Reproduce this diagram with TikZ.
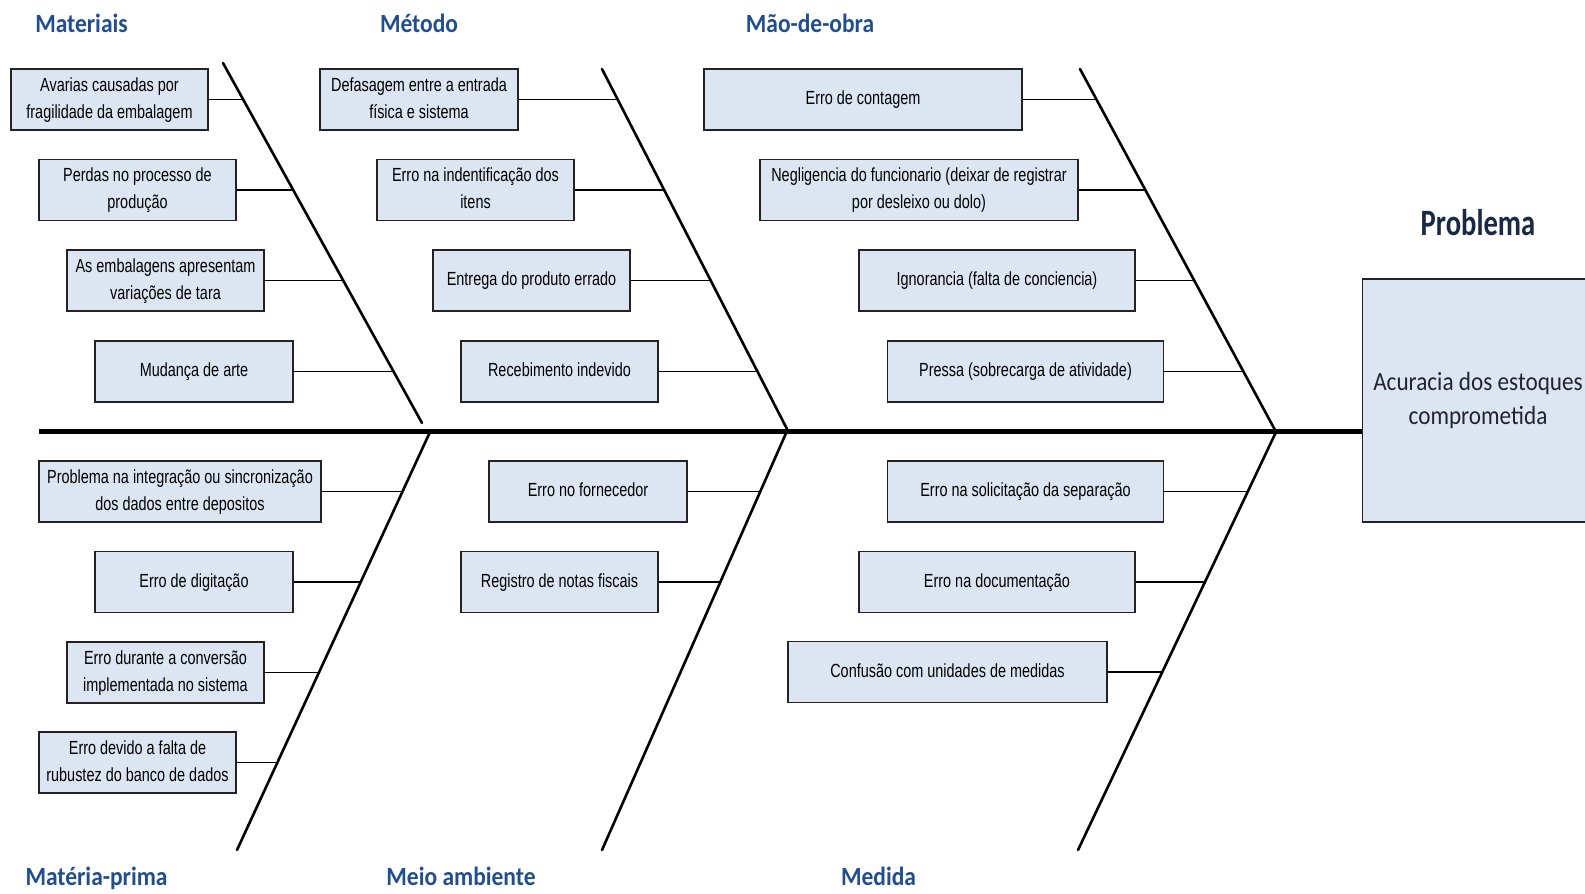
\documentclass[tikz,border=0pt]{standalone}
\usepackage{fontspec}
\setmainfont{Liberation Sans}
\newfontfamily\catfont{Carlito}
\usetikzlibrary{calc}
\definecolor{boxfill}{RGB}{220,230,242}
\definecolor{boxdraw}{RGB}{35,35,35}
\definecolor{catblue}{RGB}{32,78,145}
\definecolor{probblue}{RGB}{25,40,70}
\definecolor{probtext}{RGB}{35,35,45}
\newcommand\bt[1]{\scalebox{0.76}[1]{\fontsize{19}{27}\selectfont\begin{tabular}{@{}c@{}}#1\end{tabular}}}
\newcommand\ctx[1]{\scalebox{1}[1.12]{\catfont\bfseries\fontsize{23.5}{28}\selectfont #1}}
\newcommand\conn[3]{\draw[conn] let \p1=(#1.east), \p2=(#2), \p3=(#3) in (\p1) -- ({\x2+(\y1-\y2)/(\y3-\y2)*(\x3-\x2)},\y1);}
\tikzset{
  cbox/.style={draw=boxdraw, fill=boxfill, line width=1.7pt, inner sep=0pt, minimum height=61pt, text=black},
  bone/.style={line width=2.6pt, line cap=round},
  spine/.style={line width=5pt},
  conn/.style={line width=1.8pt, draw=black},
  cat/.style={anchor=base, text=catblue, inner sep=0pt}
}
\begin{document}
\begin{tikzpicture}[x=1pt,y=-1pt]
\useasboundingbox (0,0) rectangle (1585,894);
\clip (0,0) rectangle (1585,894);
% bones
\coordinate (mt) at (223,63);   \coordinate (mb) at (422,423);
\coordinate (nt) at (602,69);   \coordinate (nb) at (787,429);
\coordinate (ot) at (1080,69);  \coordinate (ob) at (1275,430);
\coordinate (pt) at (430,432);  \coordinate (pb) at (237,850);
\coordinate (qt) at (787,431);  \coordinate (qb) at (602,850);
\coordinate (rt) at (1276,432); \coordinate (rb) at (1078,850);
\coordinate (spl) at (38.5,431.5);
% problem box
\node[cbox, minimum width=231pt, minimum height=242.4pt, text=probtext] (prob) at (1478,400.5)
  {\scalebox{1}[1.13]{\catfont\fontsize{23.2}{30}\selectfont\begin{tabular}{@{}c@{}}Acuracia dos estoques\\comprometida\end{tabular}}};
\node[anchor=base, text=probblue, inner sep=0pt] (probl) at (1478,235)
  {\scalebox{1}[1.3]{\catfont\bfseries\fontsize{28.6}{32}\selectfont Problema}};
\draw[spine] (spl) -- (spl -| prob.west);
\draw[bone] (mt) -- (mb);
\draw[bone] (nt) -- (nb);
\draw[bone] (ot) -- (ob);
\draw[bone] (pt) -- (pb);
\draw[bone] (qt) -- (qb);
\draw[bone] (rt) -- (rb);
% category labels
\node[cat] (lmat) at (81.5,32) {\ctx{Materiais}};
\node[cat] (lmet) at (419,32) {\ctx{Método}};
\node[cat] (lmao) at (810,32) {\ctx{Mão-de-obra}};
\node[cat] (lmp) at (96.5,885) {\ctx{Matéria-prima}};
\node[cat] (lmeio) at (461,885) {\ctx{Meio ambiente}};
\node[cat] (lmed) at (878.5,885) {\ctx{Medida}};
% Materiais
\node[cbox, minimum width=197pt] (a1) at (109.5,99.5) {\bt{Avarias causadas por\\fragilidade da embalagem}};
\node[cbox, minimum width=197pt] (a2) at (137.5,190) {\bt{Perdas no processo de\\produção}};
\node[cbox, minimum width=197pt] (a3) at (165.5,280.5) {\bt{As embalagens apresentam\\variações de tara}};
\node[cbox, minimum width=198pt] (a4) at (194,371.5) {\bt{Mudança de arte}};
% Materia-prima
\node[cbox, minimum width=282pt] (b1) at (180,491.5) {\bt{Problema na integração ou sincronização\\dos dados entre depositos}};
\node[cbox, minimum width=198pt] (b2) at (194,582) {\bt{Erro de digitação}};
\node[cbox, minimum width=197pt] (b3) at (165.5,672.5) {\bt{Erro durante a conversão\\implementada no sistema}};
\node[cbox, minimum width=197pt] (b4) at (137.5,762.5) {\bt{Erro devido a falta de\\rubustez do banco de dados}};
% Metodo
\node[cbox, minimum width=198pt] (c1) at (419,99.5) {\bt{Defasagem entre a entrada\\física e sistema}};
\node[cbox, minimum width=197pt] (c2) at (475.5,190) {\bt{Erro na indentificação dos\\itens}};
\node[cbox, minimum width=197pt] (c3) at (531.5,280.5) {\bt{Entrega do produto errado}};
\node[cbox, minimum width=197pt] (c4) at (559.5,371.5) {\bt{Recebimento indevido}};
% Meio ambiente
\node[cbox, minimum width=198pt] (d1) at (588,491.5) {\bt{Erro no fornecedor}};
\node[cbox, minimum width=197pt] (d2) at (559.5,582) {\bt{Registro de notas fiscais}};
% Mao-de-obra
\node[cbox, minimum width=317.5pt] (e1) at (863,99.5) {\bt{Erro de contagem}};
\node[cbox, minimum width=318.5pt] (e2) at (919,190) {\bt{Negligencia do funcionario (deixar de registrar\\por desleixo ou dolo)}};
\node[cbox, minimum width=276pt] (e3) at (997,280.5) {\bt{Ignorancia (falta de conciencia)}};
\node[cbox, minimum width=276pt] (e4) at (1025.5,371.5) {\bt{Pressa (sobrecarga de atividade)}};
% Medida
\node[cbox, minimum width=276pt] (f1) at (1025.5,491.5) {\bt{Erro na solicitação da separação}};
\node[cbox, minimum width=276pt] (f2) at (997,582) {\bt{Erro na documentação}};
\node[cbox, minimum width=319pt] (f3) at (947.5,672) {\bt{Confusão com unidades de medidas}};
% connectors
\conn{a1}{mt}{mb} \conn{a2}{mt}{mb} \conn{a3}{mt}{mb} \conn{a4}{mt}{mb}
\conn{b1}{pt}{pb} \conn{b2}{pt}{pb} \conn{b3}{pt}{pb} \conn{b4}{pt}{pb}
\conn{c1}{nt}{nb} \conn{c2}{nt}{nb} \conn{c3}{nt}{nb} \conn{c4}{nt}{nb}
\conn{d1}{qt}{qb} \conn{d2}{qt}{qb}
\conn{e1}{ot}{ob} \conn{e2}{ot}{ob} \conn{e3}{ot}{ob} \conn{e4}{ot}{ob}
\conn{f1}{rt}{rb} \conn{f2}{rt}{rb} \conn{f3}{rt}{rb}
\end{tikzpicture}
\end{document}
